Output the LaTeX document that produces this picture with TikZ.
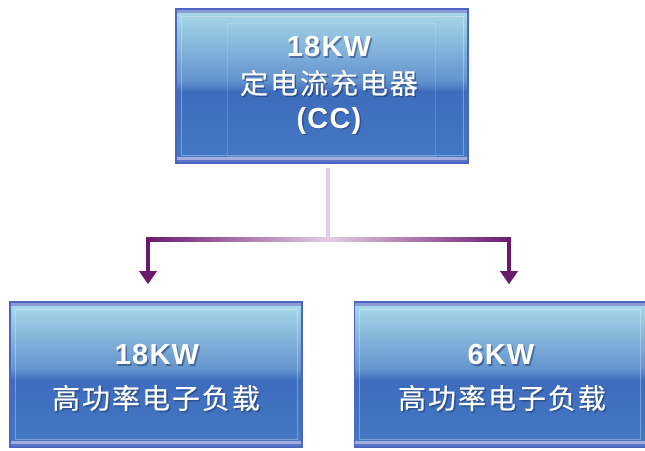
\documentclass[tikz,border=0pt]{standalone}
\usepackage{fontspec}
\setmainfont{Liberation Sans}
\newfontfamily\latinb{Liberation Sans}[LetterSpace=4]
\newfontfamily\cjk{Noto Sans CJK SC}[LetterSpace=7,FakeBold=0.4]
\usetikzlibrary{arrows.meta,calc}
\definecolor{boxtop}{HTML}{AADBE9}
\definecolor{boxmid}{HTML}{6494CE}
\definecolor{boxlow}{HTML}{3E6CBD}
\definecolor{boxbot}{HTML}{4479C3}
\definecolor{boxedge}{HTML}{4A66C0}
\definecolor{bandtop}{HTML}{8D99D6}
\definecolor{bandbot}{HTML}{A3ACDF}
\definecolor{pdark}{HTML}{6A1A6C}
\definecolor{plight}{HTML}{E4CCE5}
\definecolor{txtsh}{HTML}{1C3468}
\begin{document}
\begin{tikzpicture}[x=1pt,y=1pt,
  gbox/.style={rectangle, inner sep=0pt, draw=boxedge, line width=1.5pt,
    path picture={
      \path (path picture bounding box.north west) coordinate (pNW)
            (path picture bounding box.south east) coordinate (pSE)
            (path picture bounding box.center) coordinate (pC);
      \fill[boxlow] (pNW) rectangle (pSE);
      \shade[top color=boxtop, bottom color=boxmid] (pNW) rectangle ($(pSE|-pC)+(0,6)$);
      \shade[top color=boxmid, bottom color=boxlow] ($(pNW|-pC)+(0,6)$) rectangle ($(pSE|-pC)+(0,-6)$);
      \shade[top color=boxlow, bottom color=boxbot] ($(pNW|-pC)+(0,-6)$) rectangle (pSE);
      \fill[bandtop] (pNW) rectangle ($(pSE|-pNW)+(0,-4)$);
      \fill[bandbot] ($(pNW|-pSE)+(0,3)$) rectangle ($(pSE)+(0,6)$);
      \fill[boxedge!80!bandbot] ($(pNW|-pSE)$) rectangle ($(pSE)+(0,3)$);
      \draw[white, opacity=0.3, line width=0.7pt] ($(pNW)+(5,-7)$) rectangle ($(pSE)+(-5,8)$);
    }},
  ltxt/.style={text=white, font=\latinb\bfseries\fontsize{29}{32}\selectfont, inner sep=0pt},
  ctxt/.style={text=white, font=\cjk\fontsize{28}{32}\selectfont, inner sep=0pt},
  shadow/.style={text=txtsh, opacity=0.5},
  vline/.style={draw=plight, line width=3.5pt},
  arr/.style={draw=pdark, line width=4pt, -{Triangle[width=17pt,length=13pt]}}
]
\useasboundingbox (0,0) rectangle (645,450);

% boxes
\node[gbox, minimum width=292pt, minimum height=154pt] (top) at (322,364) {};
\node[gbox, minimum width=292pt, minimum height=145pt] (bl) at (156,75.5) {};
\node[gbox, minimum width=291pt, minimum height=145pt] (br) at (500,75.5) {};

% faint inner frame of the top box
\draw[white, opacity=0.15, line width=0.6pt] (227,294) rectangle (435,427);

% texts (shadow + white)
\node[ltxt, shadow] (t1s) at (330.5,401.5) {18KW};
\node[ltxt] (t1) at (329,403) {18KW};
\node[ctxt, shadow] (t2s) at (330.5,365.5) {定电流充电器};
\node[ctxt] (t2) at (329,367) {定电流充电器};
\node[ltxt, shadow] (t3s) at (330.5,327.5) {(CC)};
\node[ltxt] (t3) at (329,329) {(CC)};

\node[ltxt, shadow] (b1s) at (158.5,93.5) {18KW};
\node[ltxt] (b1) at (157,95) {18KW};
\node[ctxt, shadow] (b2s) at (157.5,50.5) {高功率电子负载};
\node[ctxt] (b2) at (156,52) {高功率电子负载};

\node[ltxt, shadow] (r1s) at (502.5,93.5) {6KW};
\node[ltxt] (r1) at (501,95) {6KW};
\node[ctxt, shadow] (r2s) at (503.5,50.5) {高功率电子负载};
\node[ctxt] (r2) at (502,52) {高功率电子负载};

% connectors
\coordinate (j) at (328,210);
\coordinate (cl) at (148,210);
\coordinate (cr) at (509,210);
\draw[vline, shorten <=4pt] (top.south -| j) -- (j);
\shade[left color=pdark, right color=pdark, middle color=plight] ($(cl)+(-2,-2)$) rectangle ($(cr)+(2,2)$);
\draw[arr, shorten >=17pt] ($(cl)+(0,2)$) -- (cl |- bl.north);
\draw[arr, shorten >=17pt] ($(cr)+(0,2)$) -- (cr |- br.north);
\end{tikzpicture}
\end{document}
